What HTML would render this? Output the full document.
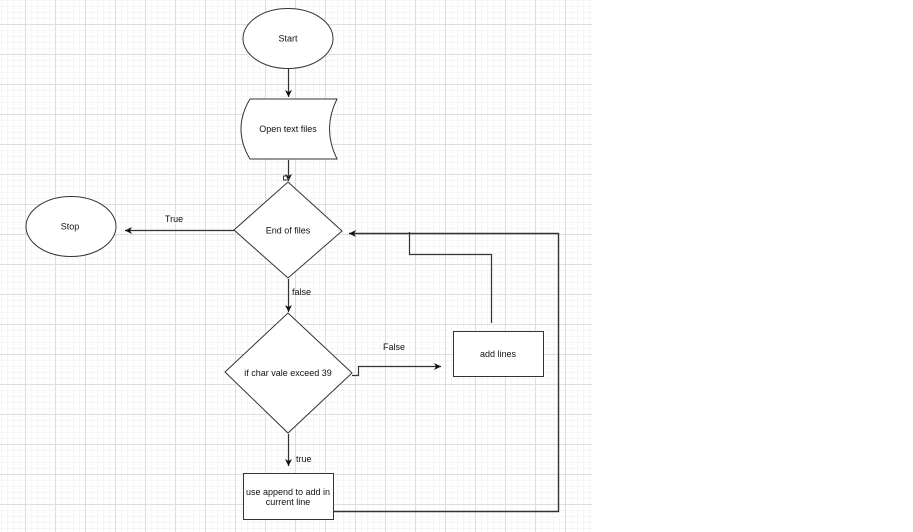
<!DOCTYPE html>
<html>
<head>
<meta charset="utf-8">
<style>
html,body{margin:0;padding:0;background:#fff;}
body{width:913px;height:532px;overflow:hidden;}
svg{display:block;}
text{font-family:"Liberation Sans",Arial,sans-serif;font-size:9px;fill:#111;}
</style>
</head>
<body>
<svg width="913" height="532" viewBox="0 0 913 532" xmlns="http://www.w3.org/2000/svg">
<defs>
<pattern id="minor" x="1" y="0" width="6" height="6" patternUnits="userSpaceOnUse">
<path d="M0.5 0V6M0 0.5H6" stroke="#f6f6f6" stroke-width="1" fill="none"/>
</pattern>
<pattern id="major" x="25" y="24" width="30" height="30" patternUnits="userSpaceOnUse">
<path d="M0.5 0V30M0 0.5H30" stroke="#dedede" stroke-width="1" fill="none"/>
</pattern>
<marker id="ah" markerWidth="8" markerHeight="8" refX="7" refY="4" orient="auto" markerUnits="userSpaceOnUse">
<path d="M0,0.5 L7,4 L0,7.5 L2,4 Z" fill="#111"/>
</marker>
</defs>
<rect x="0" y="0" width="592" height="532" fill="url(#minor)"/>
<rect x="0" y="0" width="592" height="532" fill="url(#major)"/>

<g stroke="#333" stroke-width="1" fill="#fff">
<ellipse cx="288" cy="38.5" rx="45" ry="30"/>
<ellipse cx="71" cy="226.5" rx="45" ry="30"/>
<path d="M250,99 L337,99 Q322,129 337,159 L250,159 Q232,129 250,99 Z"/>
<path d="M288,182 L342,231 L288,278 L234,230 Z"/>
<path d="M288,313 L352,373 L288,433 L225,372 Z"/>
<rect x="243.5" y="473.5" width="90" height="46"/>
<rect x="453.5" y="331.5" width="90" height="45"/>
</g>

<g stroke="#333" stroke-width="1.2" fill="none">
<path d="M288.5,69 V97" marker-end="url(#ah)"/>
<path d="M288.5,160 V181" marker-end="url(#ah)"/>
<path d="M234,230.5 H125" marker-end="url(#ah)"/>
<path d="M288.5,279 V312" marker-end="url(#ah)"/>
<path d="M288.5,434 V466" marker-end="url(#ah)"/>
<path d="M352,375.5 H358.5 V366.5 H441" marker-end="url(#ah)"/>
<path d="M334,511.5 H558.5 V233.5 H349" stroke-width="1.4" marker-end="url(#ah)"/>
<path d="M491.5,323 V254.5 H409.5 V232"/>
</g>
<rect x="283.5" y="176" width="5" height="4" fill="none" stroke="#333" stroke-width="1"/>

<text x="288" y="41.5" text-anchor="middle">Start</text>
<text x="70" y="229.5" text-anchor="middle">Stop</text>
<text x="288" y="132" text-anchor="middle">Open text files</text>
<text x="288" y="233.5" text-anchor="middle">End of files</text>
<text x="288" y="376" text-anchor="middle">if char vale exceed 39</text>
<text x="288" y="495" text-anchor="middle">use append to add in</text>
<text x="288" y="505" text-anchor="middle">current line</text>
<text x="498" y="357" text-anchor="middle">add lines</text>
<text x="174" y="222" text-anchor="middle">True</text>
<text x="292" y="295">false</text>
<text x="394" y="350" text-anchor="middle">False</text>
<text x="296" y="462">true</text>
</svg>
</body>
</html>
